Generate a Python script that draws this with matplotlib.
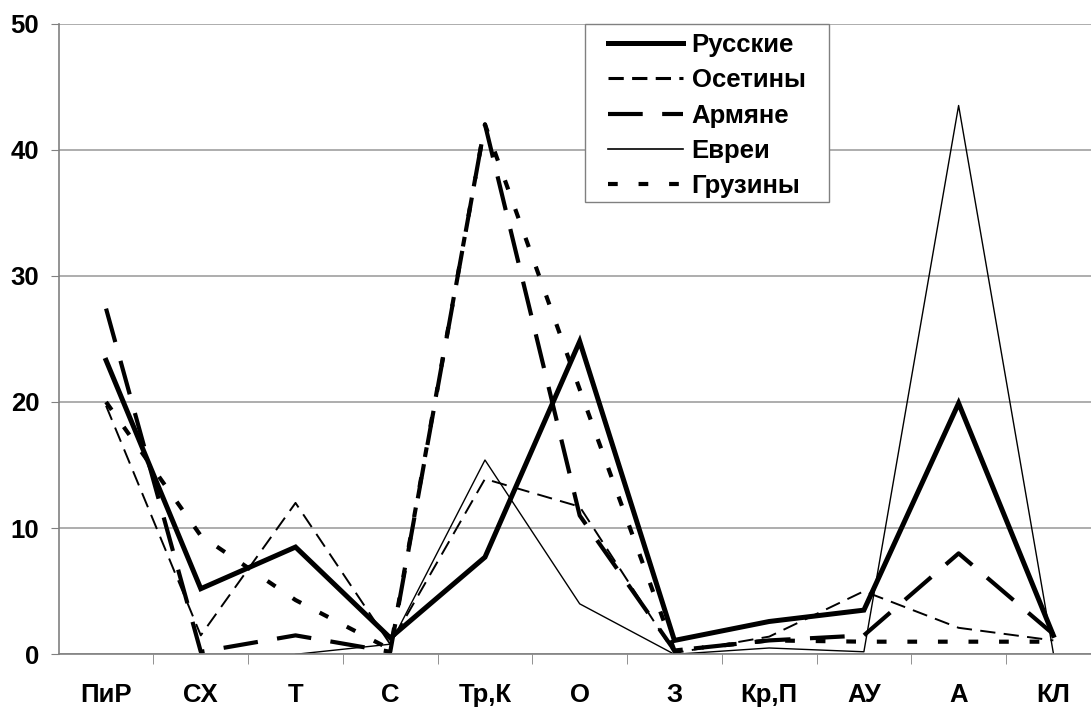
import numpy as np
import matplotlib.pyplot as plt
from matplotlib.patches import Rectangle

plt.rcParams['font.family'] = ['Liberation Sans', 'DejaVu Sans']
plt.rcParams['font.weight'] = 'bold'
plt.rcParams['lines.scale_dashes'] = False

cats = ['ПиР', 'СХ', 'Т', 'С', 'Тр,К', 'О', 'З', 'Кр,П', 'АУ', 'А', 'КЛ']
russ = [23.3, 5.2, 8.5, 1.3, 7.7, 24.8, 1.1, 2.6, 3.5, 19.9, 1.5]
oset = [19.7, 1.5, 12.0, 0.8, 13.9, 11.7, 0.1, 1.4, 5.0, 2.1, 1.1]
arm = [27.4, 0.2, 1.5, 0.2, 42.0, 11.0, 0.3, 1.1, 1.5, 8.0, 1.6]
evr = [np.nan, np.nan, 0.0, 0.8, 15.4, 4.0, 0.0, 0.5, 0.2, 43.5, 0.1]
gruz = [20.0, 9.4, 4.3, 0.4, 42.0, 21.0, 0.3, 1.1, 1.0, 1.0, 1.0]

W, H = 1091, 709
fig = plt.figure(figsize=(W/100, H/100), dpi=100)
ax = fig.add_axes([58.7/W, 1 - 654.3/H, 1042/W, 630.8/H])

x = np.arange(len(cats))
ax.plot(x, russ, color='black', lw=3.6, label='Русские', solid_joinstyle='miter')
ax.plot(x, oset, color='black', lw=1.4, dashes=(11, 6), label='Осетины')
ax.plot(x, arm, color='black', lw=3.0, dashes=(25, 14), label='Армяне')
ax.plot(x, evr, color='black', lw=1.0, label='Евреи')
ax.plot(x, gruz, color='black', lw=3.0, dashes=(7, 15), label='Грузины')

ax.set_xlim(-0.5, len(cats) - 0.5)
ax.set_ylim(0, 50)
ax.set_yticks([0, 10, 20, 30, 40, 50])
ax.yaxis.grid(True, color='#a0a0a0', lw=1.2)
ax.set_axisbelow(True)

ax.set_xticks(x)
ax.set_xticklabels(cats)
ax.set_xticks(np.arange(0.5, len(cats) - 1, 1), minor=True)
ax.tick_params(axis='x', which='major', length=0, pad=21, labelsize=18.5)
ax.tick_params(axis='x', which='minor', length=7, color='#808080', direction='out')
ax.tick_params(axis='y', length=6, color='#808080', pad=8, labelsize=18.5)

for s in ['top', 'right']:
    ax.spines[s].set_visible(False)
for s in ['left', 'bottom']:
    ax.spines[s].set_color('#808080')
    ax.spines[s].set_linewidth(1.2)

# legend box drawn separately so its padding matches
ax.add_patch(Rectangle((585/W, 1 - 202/H), 244/W, 178.5/H,
                       transform=fig.transFigure, facecolor='white',
                       edgecolor='#808080', lw=1.0, zorder=3, clip_on=False))
leg = ax.legend(loc='upper left', bbox_to_anchor=(608/W, 1 - 33/H),
                bbox_transform=fig.transFigure, borderaxespad=0, borderpad=0,
                fontsize=18.5, frameon=False, handlelength=2.9,
                handletextpad=0.35, labelspacing=0.44)
leg.set_zorder(5)
leg.get_lines()[1].set_linewidth(2.2)
leg.get_lines()[3].set_linewidth(1.2)

fig.savefig('out.png', dpi=100)
